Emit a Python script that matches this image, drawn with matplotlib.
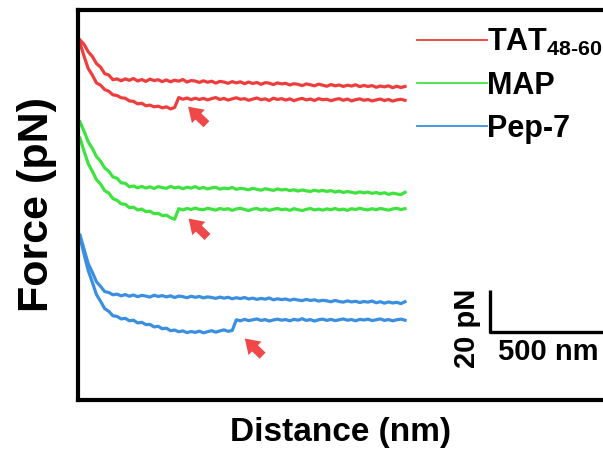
import numpy as np
import matplotlib
matplotlib.use('Agg')
import matplotlib.pyplot as plt
from matplotlib.lines import Line2D

plt.rcParams['font.family'] = 'Liberation Sans'
plt.rcParams['font.weight'] = 'bold'
plt.rcParams['mathtext.fontset'] = 'custom'
plt.rcParams['mathtext.rm'] = 'Liberation Sans:bold'
plt.rcParams['mathtext.it'] = 'Liberation Sans:bold'
plt.rcParams['mathtext.bf'] = 'Liberation Sans:bold'
plt.rcParams['mathtext.default'] = 'rm'

# tip-sample distance (nm), same grid for every curve
distance = np.linspace(0, 1250, 80)

# force (pN) relative to the far-field baseline of each approach curve
red_approach = [22.4, 20.3, 16.8, 14.6, 11.2, 9.5, 6.4, 5.7, 3.5, 3.9,
                3.0, 3.9, 3.2, 4.1, 2.9, 3.6, 2.7, 3.8, 3.1, 3.5,
                2.6, 3.4, 2.5, 3.3, 2.8, 3.6, 2.4, 3.1, 2.9, 2.2,
                3.0, 2.3, 2.8, 1.9, 2.7, 2.4, 1.8, 2.6, 2.0, 2.5,
                1.6, 2.4, 1.7, 2.2, 1.3, 2.1, 1.9, 1.2, 2.0, 1.5,
                1.8, 1.0, 1.6, 1.3, 0.7, 1.5, 1.1, 0.6, 1.4, 0.9,
                0.4, 1.2, 0.6, 1.0, 0.3, 0.9, 0.5, 1.1, 0.2, 0.8,
                0.3, 0.7, -0.1, 0.5, 0.1, 0.6, -0.3, 0.4, -0.2, 0.3]
red_retract = [21.0, 14.6, 8.8, 5.7, 2.0, 0.9, -1.2, -2.0, -3.7, -4.0,
               -5.1, -5.3, -6.6, -6.8, -8.0, -7.7, -8.9, -8.6, -9.4, -9.1,
               -9.9, -9.4, -10.4, -9.7, -5.0, -5.8, -5.2, -6.0, -5.3, -5.9,
               -5.4, -6.1, -5.5, -5.0, -5.9, -5.4, -6.2, -5.6, -5.1, -5.8,
               -5.5, -6.3, -5.7, -5.2, -6.0, -5.6, -6.4, -5.3, -5.9, -5.5,
               -6.2, -5.6, -6.5, -5.8, -5.4, -6.1, -5.7, -6.4, -5.5, -6.0,
               -5.8, -6.5, -5.9, -5.5, -6.3, -5.7, -6.6, -6.0, -5.6, -6.3,
               -5.9, -6.6, -6.1, -5.7, -6.4, -5.9, -6.7, -6.1, -5.8, -6.3]

green_approach = [34.3, 29.8, 24.8, 21.7, 17.8, 15.6, 12.4, 10.8, 8.1, 7.5,
                  5.3, 5.1, 3.4, 3.8, 2.9, 3.6, 2.8, 3.4, 2.6, 3.5,
                  3.0, 2.7, 3.6, 2.9, 3.3, 2.5, 3.2, 2.8, 3.5, 2.6,
                  3.1, 2.4, 2.9, 3.2, 2.3, 2.8, 2.5, 3.1, 2.2, 2.7,
                  2.4, 2.0, 2.7, 2.2, 1.8, 2.5, 2.1, 1.7, 2.4, 1.9,
                  2.2, 1.6, 2.0, 1.4, 1.9, 1.5, 1.2, 1.8, 1.3, 1.7,
                  1.2, 1.6, 0.9, 1.4, 0.7, 1.2, 0.8, 0.4, 1.0, 0.5,
                  0.9, 0.3, 0.7, 0.1, 0.6, -0.2, 0.4, 0.0, -0.3, 0.8]
green_retract = [26.6, 20.3, 14.4, 10.8, 6.8, 4.7, 1.6, 0.4, -2.2, -3.0,
                 -4.7, -4.9, -6.5, -6.3, -7.6, -7.2, -8.4, -8.2, -9.4, -9.2,
                 -10.3, -10.1, -11.3, -12.0, -7.0, -7.6, -6.9, -7.4, -6.7, -7.3,
                 -7.5, -6.8, -7.2, -7.7, -6.9, -7.4, -7.0, -7.8, -7.1, -6.8,
                 -7.4, -7.9, -7.2, -6.9, -7.6, -7.1, -7.8, -7.3, -6.9, -7.5,
                 -7.2, -7.8, -7.0, -7.5, -7.9, -7.3, -6.9, -7.6, -7.2, -7.7,
                 -7.1, -7.5, -6.9, -7.6, -7.2, -7.8, -7.0, -7.4, -6.8, -7.3,
                 -7.6, -7.0, -7.5, -6.9, -7.3, -7.7, -7.1, -6.8, -7.4, -7.0]

blue_approach = [32.3, 25.5, 18.7, 14.6, 10.1, 7.9, 5.4, 5.0, 3.9, 4.2,
                 3.4, 4.0, 3.2, 3.8, 3.0, 3.6, 3.3, 2.8, 3.7, 3.1,
                 3.5, 2.9, 3.4, 2.6, 3.3, 3.0, 2.5, 3.2, 2.7, 3.1,
                 2.4, 2.9, 2.6, 2.2, 2.8, 2.3, 2.7, 2.0, 2.5, 2.1,
                 2.6, 1.9, 2.3, 1.7, 2.2, 1.8, 2.4, 1.5, 2.0, 1.6,
                 1.9, 1.3, 1.8, 1.4, 1.1, 1.7, 1.2, 1.5, 0.9, 1.3,
                 1.0, 0.6, 1.2, 0.7, 0.4, 1.0, 0.5, 0.8, 0.2, 0.7,
                 0.4, 0.9, 0.1, 0.6, -0.1, 0.5, 0.0, 0.3, -0.3, 0.6]
blue_retract = [31.4, 23.1, 15.4, 9.8, 4.0, 0.8, -2.7, -4.0, -6.1, -6.4,
                -7.6, -7.3, -8.5, -8.2, -9.5, -9.2, -10.3, -10.2, -11.4, -11.1,
                -12.3, -12.0, -13.2, -12.9, -13.7, -13.3, -14.1, -13.6, -14.0, -13.4,
                -14.2, -13.7, -13.2, -13.9, -13.3, -12.8, -13.5, -13.1, -8.0, -8.5,
                -7.8, -8.4, -8.0, -7.6, -8.3, -7.9, -8.6, -8.1, -7.7, -8.2,
                -7.9, -8.5, -7.8, -8.2, -7.5, -8.3, -7.9, -8.6, -8.0, -7.7,
                -8.3, -7.8, -8.4, -8.0, -7.6, -8.2, -7.9, -8.5, -7.8, -8.1,
                -7.7, -8.4, -8.0, -7.6, -8.3, -7.9, -8.5, -8.0, -7.7, -8.2]

labels = [r'TAT$_{48\text{-}60}$', 'MAP', 'Pep-7']
approach = [red_approach, green_approach, blue_approach]
retract = [red_retract, green_retract, blue_retract]
colors = ['#ef3d3d', '#3fe33f', '#3b8fe0']
# vertical stacking of the three pairs (pN)
offsets = [149.5, 98.6, 46.7]
# arrows marking the rupture events: (tip x, tip y, tail x, tail y) relative to offset
arrows = [(408, -8.4, 494, -18.6),
          (410, -10.8, 498, -21.4),
          (626, -16.0, 710, -26.0)]

fig = plt.figure(figsize=(6.03, 4.53), dpi=100)
ax = fig.add_axes([78 / 603, 53 / 453, 525 / 603, 390 / 453])

for app, ret, c, off, arr in zip(approach, retract, colors, offsets, arrows):
    ax.plot(distance, np.array(app) + off, color=c, lw=2.3)
    ax.plot(distance, np.array(ret) + off, color=c, lw=2.3)
    ax.annotate('', xy=(arr[0], arr[1] + off), xytext=(arr[2], arr[3] + off),
                arrowprops=dict(arrowstyle='simple,head_length=0.32,head_width=0.42,tail_width=0.19',
                                color='#f04848', lw=0, mutation_scale=32))

# scale bar: 20 pN x 500 nm
ax.plot([1577, 1577, 2077], [52.9, 32.9, 32.9], color='black', lw=2.4, solid_capstyle='butt')
ax.text(1488, 34.5, '20 pN', rotation=90, ha='center', va='center', fontsize=21)
ax.text(1606, 23.5, '500 nm', ha='left', va='center', fontsize=21)

ax.set_xlim(-7.7, 2011.5)
ax.set_ylim(0.5, 186.2)
ax.set_xticks([])
ax.set_yticks([])
ax.spines['right'].set_visible(False)
for s in ['left', 'top', 'bottom']:
    ax.spines[s].set_linewidth(3)

ax.set_xlabel('Distance (nm)', fontsize=24, fontweight='bold', labelpad=12)
ax.set_ylabel('Force (pN)', fontsize=31, fontweight='bold', labelpad=15)

handles = [Line2D([], [], color=c, lw=1.3) for c in colors]
ax.legend(handles, labels, loc='upper left', bbox_to_anchor=(417 / 603, 426 / 453),
          bbox_transform=fig.transFigure, frameon=False, fontsize=22,
          handlelength=2.3, handletextpad=0.0, borderpad=0, borderaxespad=0,
          labelspacing=0.42)

fig.savefig('out.png', dpi=100)
